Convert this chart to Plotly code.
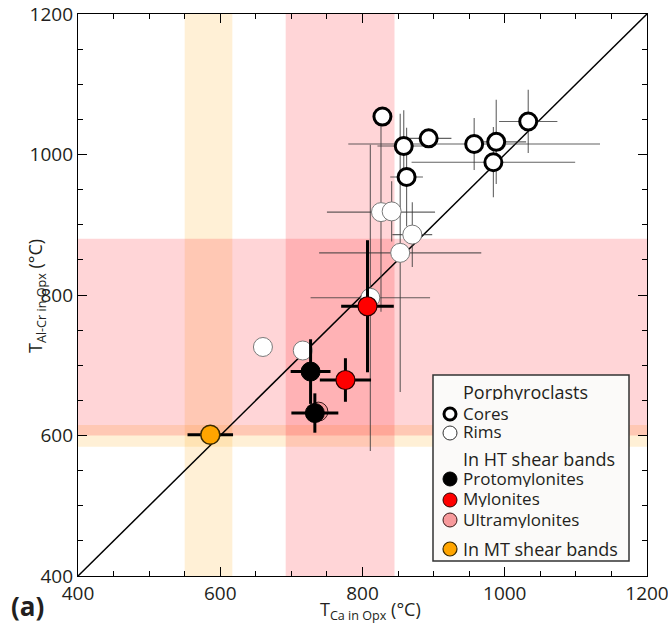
import plotly.graph_objects as go

# ---------------- data ----------------
core_x = [828, 858, 893, 957, 988, 984, 1033, 862]
core_y = [1054, 1012, 1023, 1015, 1018, 989, 1047, 968]
core_xerr = [0, 37, 32, 177, 42, 115, 41, 23]
core_yerr = [0, 51, 0, 37, 60, 50, 45, 70]

rim_x = [826, 841, 870, 853, 811, 660, 716]
rim_y = [918, 919, 886, 860, 796, 726, 721]
rim_xerr = [76, 0, 28, 114, 84, 0, 0]
rim_yerr = [142, 43, 46, 198, 218, 0, 0]

proto_x = [727, 733]
proto_y = [691, 632]
proto_xerr = [28, 33]
proto_yerr = [46, 28]

mylo_x = [807, 776]
mylo_y = [784, 679]
mylo_xerr = [37, 36]
mylo_yerr = [94, 31]

ultra_x = [738]
ultra_y = [634]

mt_x = [586]
mt_y = [601]
mt_xerr = [32]
mt_yerr = [0]

ht_x_range = [692, 845]
ht_y_range = [600, 880]
mt_x_range = [550, 617]
mt_y_range = [584, 615]

one_to_one = [400, 1200]
axis_range = [400, 1200]
tick_vals = [400, 600, 800, 1000, 1200]

# ---------------- layout geometry ----------------
W, H = 668, 628
ML, MR, MT, MB = 78, 21, 14, 52
PW, PH = W - ML - MR, H - MT - MB
FONT = "Open Sans"
TXT = "#231F20"


def px(xp):
    return (xp - ML) / PW


def py(yp):
    return (H - MB - yp) / PH


fig = go.Figure()

# 1:1 line
fig.add_trace(go.Scatter(x=one_to_one, y=one_to_one, mode="lines",
                         line=dict(color="black", width=1.5),
                         hoverinfo="skip", showlegend=False))

thin_err = dict(color="rgba(55,55,55,0.78)", thickness=1.1, width=0)
thick_err = dict(color="black", thickness=3, width=0)

# rims
fig.add_trace(go.Scatter(
    x=rim_x, y=rim_y, mode="markers", name="Rims",
    error_x=dict(type="data", array=rim_xerr, **thin_err),
    error_y=dict(type="data", array=rim_yerr, **thin_err),
    marker=dict(size=19, color="white", line=dict(color="#7a7a7a", width=1)),
    showlegend=False))

# cores
fig.add_trace(go.Scatter(
    x=core_x, y=core_y, mode="markers", name="Cores",
    error_x=dict(type="data", array=core_xerr, **thin_err),
    error_y=dict(type="data", array=core_yerr, **thin_err),
    marker=dict(size=17, color="white", line=dict(color="black", width=3)),
    showlegend=False))

# ultramylonites
fig.add_trace(go.Scatter(
    x=ultra_x, y=ultra_y, mode="markers", name="Ultramylonites",
    marker=dict(size=19, color="#F79A9C", line=dict(color="#3a1a1a", width=1)),
    showlegend=False))

# protomylonites
fig.add_trace(go.Scatter(
    x=proto_x, y=proto_y, mode="markers", name="Protomylonites",
    error_x=dict(type="data", array=proto_xerr, **thick_err),
    error_y=dict(type="data", array=proto_yerr, **thick_err),
    marker=dict(size=19, color="black", line=dict(color="black", width=1)),
    showlegend=False))

# mylonites
fig.add_trace(go.Scatter(
    x=mylo_x, y=mylo_y, mode="markers", name="Mylonites",
    error_x=dict(type="data", array=mylo_xerr, **thick_err),
    error_y=dict(type="data", array=mylo_yerr, **thick_err),
    marker=dict(size=19, color="#FF0000", line=dict(color="#2a0000", width=1.2)),
    showlegend=False))

# MT shear bands
fig.add_trace(go.Scatter(
    x=mt_x, y=mt_y, mode="markers", name="In MT shear bands",
    error_x=dict(type="data", array=mt_xerr, **thick_err),
    error_y=dict(type="data", array=mt_yerr, **thick_err),
    marker=dict(size=19, color="#FFA500", line=dict(color="#3a2a00", width=1.5)),
    showlegend=False))

# ---------------- shapes ----------------
shapes = []
PINK = "rgba(255,0,12,0.165)"
ORNG = "rgba(255,170,30,0.18)"
shapes.append(dict(type="rect", xref="x", yref="paper", x0=mt_x_range[0], x1=mt_x_range[1],
                   y0=0, y1=1, fillcolor=ORNG, line=dict(width=0), layer="below"))
shapes.append(dict(type="rect", xref="paper", yref="y", x0=0, x1=1,
                   y0=mt_y_range[0], y1=mt_y_range[1], fillcolor=ORNG, line=dict(width=0), layer="below"))
shapes.append(dict(type="rect", xref="x", yref="paper", x0=ht_x_range[0], x1=ht_x_range[1],
                   y0=0, y1=1, fillcolor=PINK, line=dict(width=0), layer="below"))
shapes.append(dict(type="rect", xref="paper", yref="y", x0=0, x1=1,
                   y0=ht_y_range[0], y1=ht_y_range[1], fillcolor=PINK, line=dict(width=0), layer="below"))

# legend box
shapes.append(dict(type="rect", xref="paper", yref="paper",
                   x0=px(433), x1=px(629), y0=py(561), y1=py(375),
                   fillcolor="#FBFAF9", line=dict(color="#333333", width=1.5), layer="above"))

legend_items = [
    # (y pixel, fill, line color, line width, label, header?)
    (391, None, None, None, "Porphyroclasts", True),
    (413, "white", "black", 3, "Cores", False),
    (432, "white", "#333333", 1, "Rims", False),
    (459, None, None, None, "In HT shear bands", True),
    (478, "black", "black", 1, "Protomylonites", False),
    (499, "#FF0000", "#2a0000", 1, "Mylonites", False),
    (519, "#F79A9C", "#3a1a1a", 1, "Ultramylonites", False),
    (548, "#FFA500", "#3a2a00", 1.2, "In MT shear bands", True),
]
annotations = []
for ypix, fill, lc, lw, label, header in legend_items:
    if fill is not None:
        r = 7 if lw < 3 else 6
        shapes.append(dict(type="circle", xref="paper", yref="paper",
                           xsizemode="pixel", ysizemode="pixel",
                           xanchor=px(450), yanchor=py(ypix + 1),
                           x0=-r, x1=r, y0=-r, y1=r,
                           fillcolor=fill, line=dict(color=lc, width=lw), layer="above"))
    annotations.append(dict(xref="paper", yref="paper", x=px(461), y=py(ypix),
                            text=label, showarrow=False, xanchor="left", yanchor="middle",
                            height=17, valign="middle",
                            font=dict(family=FONT, size=18 if header else 17, color=TXT)))

# axis titles and panel label
annotations.append(dict(xref="paper", yref="paper", x=px(370), y=py(610),
                        text="T<sub>Ca in Opx</sub> (°C)", showarrow=False,
                        xanchor="center", yanchor="middle",
                        font=dict(family=FONT, size=18, color=TXT)))
annotations.append(dict(xref="paper", yref="paper", x=px(36), y=py(296),
                        text="T<sub>Al-Cr in Opx</sub> (°C)", showarrow=False, textangle=-90,
                        xanchor="center", yanchor="middle",
                        font=dict(family=FONT, size=18, color=TXT)))
annotations.append(dict(xref="paper", yref="paper", x=px(27), y=py(606),
                        text="<b>(a)</b>", showarrow=False,
                        xanchor="center", yanchor="middle",
                        font=dict(family=FONT, size=26, color=TXT)))

axis_common = dict(
    range=axis_range, tickvals=tick_vals, ticks="inside", ticklen=9, tickwidth=1.2,
    tickcolor="black", showline=True, linecolor="black", linewidth=1.3, mirror="ticks",
    showgrid=False, zeroline=False, automargin=False, ticklabeloverflow="allow",
    tickfont=dict(family=FONT, size=19, color=TXT),
    minor=dict(dtick=50, ticks="inside", ticklen=5, tickwidth=1.2, tickcolor="black", showgrid=False),
)

fig.update_layout(
    width=W, height=H,
    margin=dict(l=ML, r=MR, t=MT, b=MB, autoexpand=False),
    paper_bgcolor="white", plot_bgcolor="white",
    xaxis=dict(**axis_common),
    yaxis=dict(**axis_common),
    shapes=shapes, annotations=annotations,
    showlegend=False,
)

fig.write_html("out.html",
               config={"displayModeBar": False, "responsive": False},
               post_script="document.body.style.margin='0';document.body.style.overflow='hidden';")
